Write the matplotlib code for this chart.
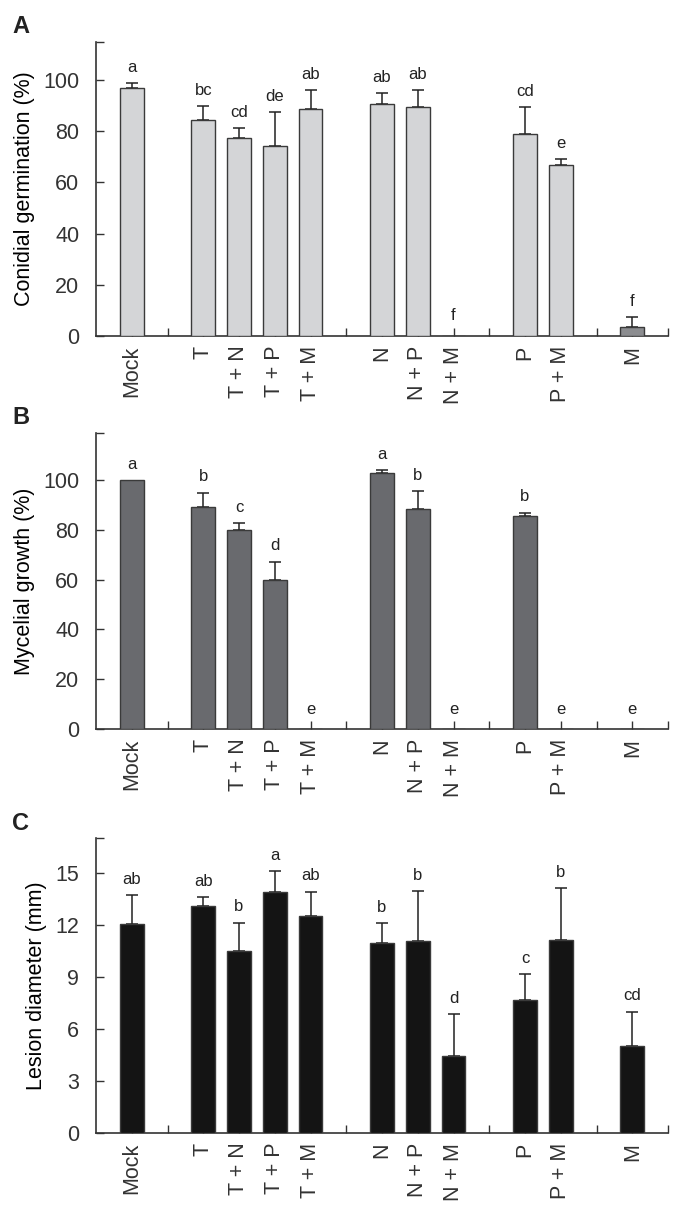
import matplotlib
matplotlib.use('Agg')
import matplotlib.pyplot as plt
import numpy as np

plt.rcParams['font.family'] = ['Liberation Sans', 'DejaVu Sans']
plt.rcParams['text.color'] = '#222222'
plt.rcParams['axes.edgecolor'] = '#333333'
plt.rcParams['xtick.color'] = '#333333'
plt.rcParams['ytick.color'] = '#333333'

# treatment groups (one empty slot between groups)
groups = [['Mock'],
          ['T', 'T + N', 'T + P', 'T + M'],
          ['N', 'N + P', 'N + M'],
          ['P', 'P + M'],
          ['M']]

# A: conidial germination (%)
germ_mean = [97.0, 84.4, 77.5, 74.0, 88.7, 90.5, 89.6, 0.0, 78.8, 66.9, 3.6]
germ_err = [1.6, 5.4, 3.6, 13.4, 7.4, 4.3, 6.5, 0.0, 10.5, 2.2, 3.7]
germ_letters = ['a', 'bc', 'cd', 'de', 'ab', 'ab', 'ab', 'f', 'cd', 'e', 'f']

# B: mycelial growth (%)
myc_mean = [100.0, 89.3, 79.7, 59.9, 0.0, 102.7, 88.1, 0.0, 85.4, 0.0, 0.0]
myc_err = [0.0, 5.5, 2.8, 7.3, 0.0, 1.2, 7.4, 0.0, 1.4, 0.0, 0.0]
myc_letters = ['a', 'b', 'c', 'd', 'e', 'a', 'b', 'e', 'b', 'e', 'e']

# C: lesion diameter (mm)
les_mean = [12.07, 13.07, 10.51, 13.86, 12.51, 10.93, 11.09, 4.43, 7.67, 11.10, 5.01]
les_err = [1.64, 0.52, 1.62, 1.23, 1.39, 1.18, 2.85, 2.43, 1.48, 2.99, 1.99]
les_letters = ['ab', 'ab', 'b', 'a', 'ab', 'b', 'b', 'd', 'c', 'b', 'cd']

labels = [t for g in groups for t in g]
pos = []
x = 0
for g in groups:
    for t in g:
        pos.append(x)
        x += 1
    x += 1
xmax = pos[-1] + 1


def draw_panel(ax, means, errs, letters, colors, ylabel, ymax, ytop, step):
    ax.bar(pos, means, width=0.66, color=colors, edgecolor='#3a3a3a',
           linewidth=1.0, zorder=3)
    ep = [p for p, e in zip(pos, errs) if e > 0]
    em = [m for m, e in zip(means, errs) if e > 0]
    ee = [e for e in errs if e > 0]
    ax.errorbar(ep, em, yerr=[np.zeros(len(ee)), ee], fmt='none',
                ecolor='#222222', elinewidth=1.1, capsize=4, capthick=1.1,
                zorder=2.8)
    for p, m, e, l in zip(pos, means, errs, letters):
        off = 9 if m == 0 else 6
        ax.annotate(l, (p, m + e), xytext=(0, off), textcoords='offset points',
                    ha='center', va='bottom', fontsize=12)

    ax.set_xlim(-1, xmax)
    ticks = np.arange(0, xmax + 1)
    ax.set_xticks(ticks)
    ax.set_xticklabels([labels[pos.index(t)] if t in pos else '' for t in ticks],
                       rotation=90, fontsize=15.5, va='top', ha='center')
    ax.tick_params(axis='x', direction='in', length=6, width=1.0, pad=7)

    ax.set_ylim(0, ymax)
    yt = list(np.arange(0, ytop + 0.1, step)) + [ymax]
    ax.set_yticks(yt)
    ax.set_yticklabels([f'{v:g}' for v in yt[:-1]] + [''], fontsize=15.5)
    ax.tick_params(axis='y', direction='in', length=6, width=1.0, pad=12)
    ax.set_ylabel(ylabel, fontsize=15.5, labelpad=6)

    ax.spines['top'].set_visible(False)
    ax.spines['right'].set_visible(False)
    ax.spines['left'].set_linewidth(1.2)
    ax.spines['bottom'].set_linewidth(1.2)


fig = plt.figure(figsize=(6.78, 12.14), dpi=100)
W, H = 678, 1214


def add_axes(top, bottom):
    return fig.add_axes([96 / W, 1 - bottom / H, (668 - 96) / W, (bottom - top) / H])


axA = add_axes(42, 336)
axB = add_axes(433, 729)
axC = add_axes(838, 1133)

colA = ['#d4d5d7'] * (len(labels) - 1) + ['#8c8d90']
draw_panel(axA, germ_mean, germ_err, germ_letters, colA,
           'Conidial germination (%)', 114.8, 100, 20)
draw_panel(axB, myc_mean, myc_err, myc_letters, '#696a6e',
           'Mycelial growth (%)', 118.8, 100, 20)
draw_panel(axC, les_mean, les_err, les_letters, '#141414',
           'Lesion diameter (mm)', 17.0, 15, 3)

for lab, ytop in [('A', 15), ('B', 406), ('C', 812)]:
    fig.text(12 / W, 1 - ytop / H, lab, fontsize=17, fontweight='bold',
             ha='left', va='top')

fig.savefig('out.png', dpi=100)
